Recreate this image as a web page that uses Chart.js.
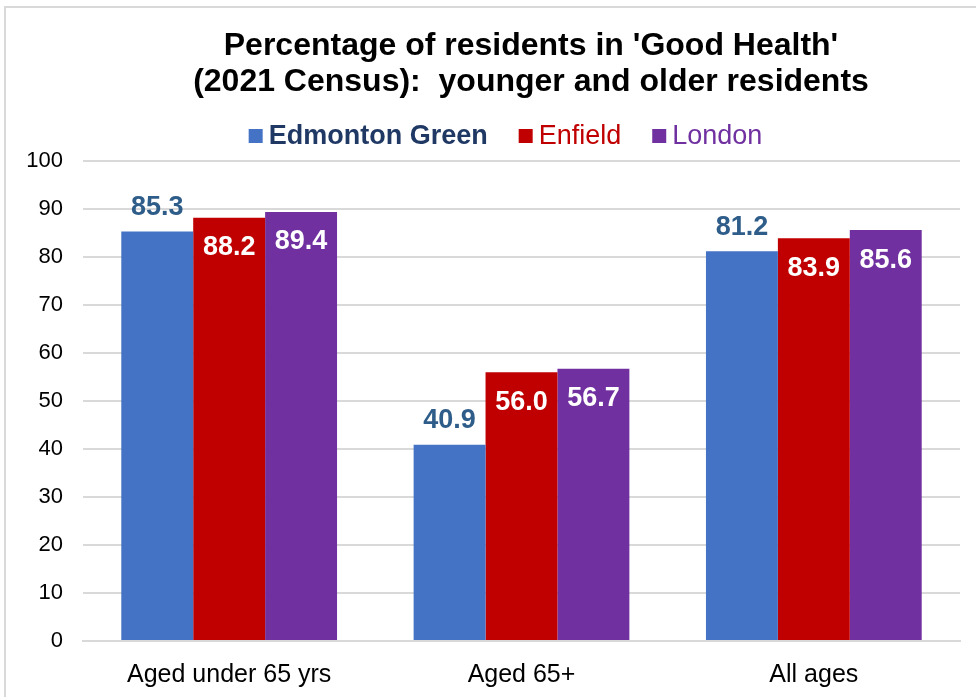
<!DOCTYPE html>
<html>
<head>
<meta charset="utf-8">
<script src="https://cdn.jsdelivr.net/npm/chart.js@4.4.0/dist/chart.umd.min.js"></script>
<style>
  html, body { margin: 0; padding: 0; background: #fff; overflow: hidden; }
  #frame {
    position: absolute; left: 4px; top: 6px;
    border-left: 2px solid #d9d9d9; border-top: 2px solid #d9d9d9;
    width: 1050px; height: 700px;
  }
  #chart { display: block; }
</style>
</head>
<body>
<div id="frame"><canvas id="chart" width="1050" height="700"></canvas></div>
<script>
// Data
const categories = ['Aged under 65 yrs', 'Aged 65+', 'All ages'];
const edmontonGreen = [85.3, 40.9, 81.2];
const enfield = [88.2, 56.0, 83.9];
const london = [89.4, 56.7, 85.6];
const yTicks = [0, 10, 20, 30, 40, 50, 60, 70, 80, 90, 100];

const seriesNames = ['Edmonton Green', 'Enfield', 'London'];
const barColors = ['#4472C4', '#C00000', '#7030A0'];
const legendTextColors = ['#1F3864', '#C00000', '#7030A0'];
const FONT = "'Liberation Sans', Arial, sans-serif";

// Label nilai di atas / di dalam batang
const barLabels = {
    id: 'barLabels',
    afterDatasetsDraw(chart) {
        const ctx = chart.ctx;
        ctx.save();
        ctx.font = 'bold 27px ' + FONT;
        ctx.textAlign = 'center';
        ctx.textBaseline = 'middle';
        chart.data.datasets.forEach((ds, i) => {
            const meta = chart.getDatasetMeta(i);
            meta.data.forEach((bar, j) => {
                const txt = ds.data[j].toFixed(1);
                if (i === 0) {
                    ctx.fillStyle = '#2F5D8A';
                    ctx.fillText(txt, bar.x, bar.y - 24);
                } else {
                    ctx.fillStyle = '#ffffff';
                    ctx.fillText(txt, bar.x, bar.y + 30);
                }
            });
        });
        ctx.restore();
    }
};

// Legenda manual (teks "Edmonton Green" tebal)
const customLegend = {
    id: 'customLegend',
    afterDraw(chart) {
        const ctx = chart.ctx;
        const area = chart.chartArea;
        ctx.save();
        const fonts = ['bold 27px ' + FONT, '27px ' + FONT, '27px ' + FONT];
        const box = 14, gapText = 6, gapItem = 31;
        let total = 0;
        const widths = seriesNames.map((name, i) => {
            ctx.font = fonts[i];
            const w = ctx.measureText(name).width;
            total += box + gapText + w;
            return w;
        });
        total += gapItem * (seriesNames.length - 1);
        let x = (area.left + area.right) / 2 - 16 - total / 2;
        const cy = 129;
        ctx.textBaseline = 'middle';
        ctx.textAlign = 'left';
        seriesNames.forEach((name, i) => {
            ctx.fillStyle = barColors[i];
            ctx.fillRect(x, cy - box / 2 - 1, box, box);
            x += box + gapText;
            ctx.font = fonts[i];
            ctx.fillStyle = legendTextColors[i];
            ctx.fillText(name, x, cy);
            x += widths[i] + gapItem;
        });
        ctx.restore();
    }
};

const ctx = document.getElementById('chart').getContext('2d');
new Chart(ctx, {
    type: 'bar',
    data: {
        labels: categories,
        datasets: [
            { label: seriesNames[0], data: edmontonGreen, backgroundColor: barColors[0] },
            { label: seriesNames[1], data: enfield, backgroundColor: barColors[1] },
            { label: seriesNames[2], data: london, backgroundColor: barColors[2] }
        ]
    },
    options: {
        responsive: false,
        animation: false,
        layout: { padding: 0 },
        datasets: {
            bar: { categoryPercentage: 0.738, barPercentage: 1.0, borderWidth: 0 }
        },
        scales: {
            x: {
                grid: { display: false, drawTicks: false },
                border: { display: true, color: '#d9d9d9', width: 2 },
                ticks: {
                    color: '#000',
                    padding: 19,
                    font: { family: FONT, size: 25 }
                },
                afterFit(scale) { scale.height = 67; }
            },
            y: {
                min: 0,
                max: 100,
                afterBuildTicks(scale) { scale.ticks = yTicks.map(v => ({ value: v })); },
                grid: { color: '#d9d9d9', lineWidth: 2, drawTicks: false },
                border: { display: false },
                ticks: {
                    color: '#000',
                    padding: 20,
                    font: { family: FONT, size: 22 }
                },
                afterFit(scale) { scale.width = 77; }
            },
            // sumbu kosong di kanan, hanya untuk memberi ruang
            yRight: {
                type: 'linear',
                position: 'right',
                display: true,
                grid: { display: false, drawTicks: false },
                border: { display: false },
                ticks: { display: false },
                afterFit(scale) { scale.width = 96; }
            }
        },
        plugins: {
            legend: { display: false },
            tooltip: { enabled: false },
            title: {
                display: true,
                text: ["Percentage of residents in 'Good Health'", '(2021 Census):  younger and older residents'],
                color: '#000',
                font: { family: FONT, size: 32, weight: 'bold', lineHeight: 1.125 },
                padding: { top: 20, bottom: 61 }
            }
        }
    },
    plugins: [barLabels, customLegend]
});
</script>
</body>
</html>
